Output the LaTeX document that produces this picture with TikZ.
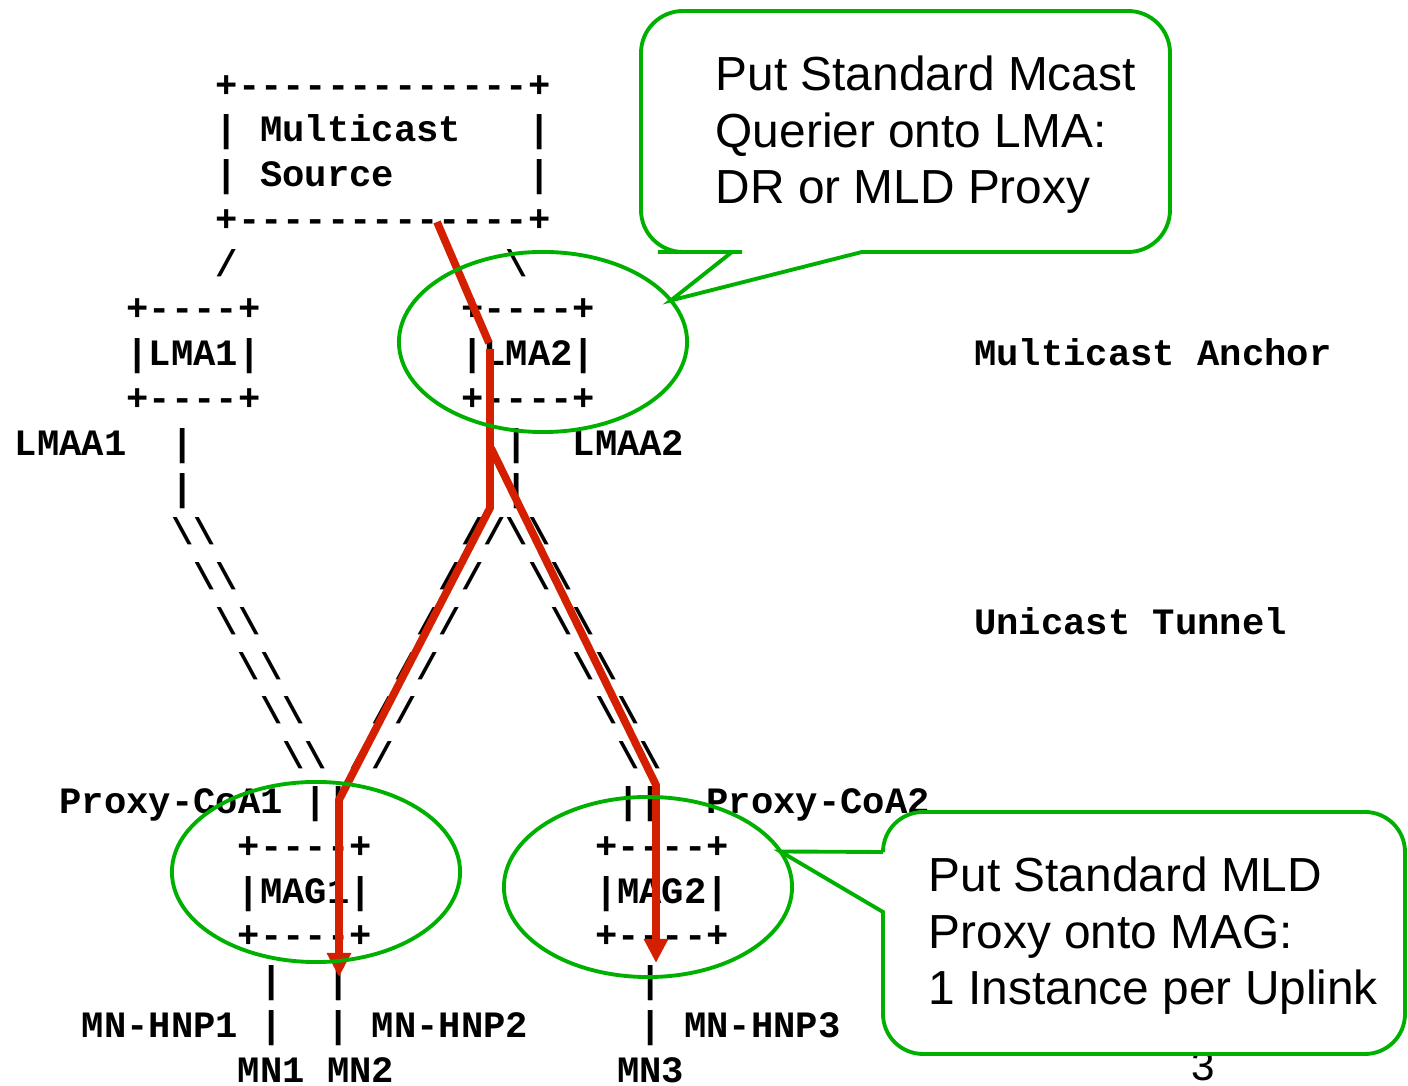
\documentclass[tikz,border=0pt]{standalone}
\usepackage{fontspec}
\usepackage{tikz}
\usetikzlibrary{arrows.meta,shapes.geometric}

\newfontfamily\asciifont{Liberation Mono}[Ligatures=TeXOff]
\newfontfamily\notefont{Liberation Sans}

\definecolor{flowred}{RGB}{212,32,0}
\definecolor{notegreen}{RGB}{0,176,0}

\begin{document}
\begin{tikzpicture}[x=0.01cm, y=-0.01cm,
	asc/.style={font=\asciifont\bfseries\fontsize{10.58}{12.7}\selectfont,
		inner sep=0pt, outer sep=0pt, anchor=base west},
	note/.style={font=\notefont\fontsize{13.6}{16.2}\selectfont,
		align=left, inner sep=0pt, anchor=base west},
	ring/.style={draw=notegreen, line width=1.1pt, ellipse, inner sep=0pt,
		outer sep=0pt, minimum width=2.88cm, minimum height=1.8cm},
	callout/.style={draw=notegreen, fill=white, line width=1.1pt},
	flow/.style={draw=flowred, line width=2.2pt},
	flowtip/.style={flow, -{Triangle[length=0.24cm, width=0.23cm]}}]

	% ---- frame

	\path[use as bounding box, clip] (0,0) rectangle (1408,1086);

	% ---- ascii figure (one column per character, one row per line)

	\begin{scope}[x=0.223cm, y=-0.4475cm, shift={(0.1485cm,-0.97cm)}]

		% multicast source
		\node[asc] (srctop) at (9,0) {+-------------+};
		\node[asc] (srcone) at (9,1) {|~Multicast~~~|};
		\node[asc] (srctwo) at (9,2) {|~Source~~~~~~|};
		\node[asc] (srcbot) at (9,3) {+-------------+};
		\node[asc] (srcl) at (9,4) {/};
		\node[asc] (srcr) at (22,4) {\textbackslash};

		% local mobility anchors
		\foreach \x/\n in {5/1,20/2} {
			\node[asc] (lmatop\n) at (\x,5) {+----+};
			\node[asc] (lma\n) at (\x,6) {|LMA\n|};
			\node[asc] (lmabot\n) at (\x,7) {+----+};
		}
		\node[asc] (anchorlbl) at (43,6) {Multicast~Anchor};
		\node[asc] (lmaa1) at (0,8) {LMAA1};
		\node[asc] (lmaa2) at (25,8) {LMAA2};
		\foreach \r in {8,9} {
			\node[asc] (barl\r) at (7,\r) {|};
			\node[asc] (barr\r) at (22,\r) {|};
		}

		% tunnels
		\foreach \i in {0,...,5} {
			\node[asc] (tunl\i) at (7+\i,10+\i) {\textbackslash\textbackslash};
			\node[asc] (tunm\i) at (20-\i,10+\i) {//};
			\node[asc] (tunr\i) at (22+\i,10+\i) {\textbackslash\textbackslash};
		}
		\node[asc] (tunnellbl) at (43,12) {Unicast~Tunnel};

		% mobile access gateways
		\node[asc] (coa1) at (2,16) {Proxy-CoA1};
		\node[asc] (up1) at (13,16) {||};
		\node[asc] (up2) at (27,16) {||};
		\node[asc] (coa2) at (31,16) {Proxy-CoA2};
		\foreach \x/\n in {10/1,26/2} {
			\node[asc] (magtop\n) at (\x,17) {+----+};
			\node[asc] (mag\n) at (\x,18) {|MAG\n|};
			\node[asc] (magbot\n) at (\x,19) {+----+};
		}

		% mobile nodes
		\foreach \x/\n in {11/1,14/2,28/3} {
			\node[asc] (acc\n) at (\x,20) {|};
			\node[asc] (hnp\n) at (\x,21) {|};
		}
		\node[asc] (hnplbl1) at (3,21) {MN-HNP1};
		\node[asc] (hnplbl2) at (16,21) {MN-HNP2};
		\node[asc] (hnplbl3) at (30,21) {MN-HNP3};
		\node[asc] (mn1) at (10,22) {MN1};
		\node[asc] (mn2) at (14,22) {MN2};
		\node[asc] (mn3) at (27,22) {MN3};

	\end{scope}

	% ---- multicast flow

	\coordinate (tap) at (437,222);
	\coordinate (lma2in) at (489,343);
	\coordinate (lma2out) at (490,349);
	\coordinate (fork) at (490,508);
	\coordinate (branch) at (491,448);
	\coordinate (mag1in) at (339,800);
	\coordinate (mag2in) at (656,785);
	\coordinate (mn2tip) at (339,977);
	\coordinate (mn3tip) at (656,963);

	\draw[flow] (tap) -- (lma2in);
	\draw[flowtip] (lma2out) -- (fork) -- (mag1in) -- (mn2tip);
	\draw[flowtip] (branch) -- (mag2in) -- (mn3tip);

	% ---- rings

	\node[ring] (lmaring) at (543,342) {};
	\node[ring] (magring1) at (316,872) {};
	\node[ring] (magring2) at (648,887) {};

	% ---- page number

	\node[font=\notefont\fontsize{12}{14}\selectfont, inner sep=0pt, anchor=base]
		(pagenum) at (1203,1081) {3};

	% ---- callouts

	\draw[callout] (900,11) [rounded corners=0.42cm] -- (641,11) -- (641,252) -- (700,252)
		[sharp corners] -- (732,252) -- (lmaring.18) -- (862,252) -- (950,252)
		[rounded corners=0.42cm] -- (1170,252) -- (1170,11) -- cycle;

	\draw[callout] (1100,812) [rounded corners=0.4cm] -- (883,812)
		[sharp corners] -- (883,852) -- (magring2.15) -- (883,912) -- (883,960)
		[rounded corners=0.4cm] -- (883,1054) -- (1405,1054) -- (1405,812) -- cycle;

	% multi-line notes sit on the baseline of their last line
	\node[note] (lmanote) at (715,204)
		{Put Standard Mcast\\Querier onto LMA:\\DR or MLD Proxy};
	\node[note] (magnote) at (928,1005)
		{Put Standard MLD\\Proxy onto MAG:\\1 Instance per Uplink};

\end{tikzpicture}
\end{document}
